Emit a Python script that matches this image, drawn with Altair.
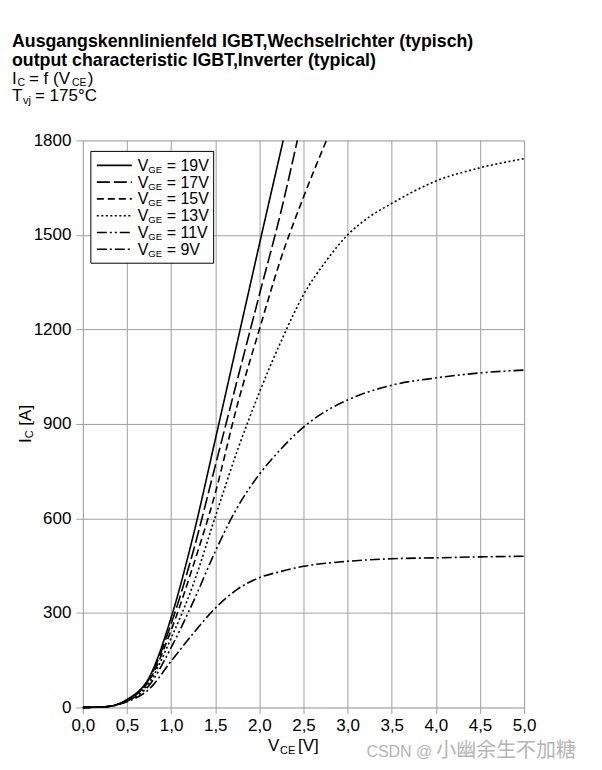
import altair as alt
import pandas as pd

# ---- data ----
series = ["19V", "17V", "15V", "13V", "11V", "9V"]

vce_19 = [0, 0.25, 0.5, 0.75, 1.0, 1.25, 1.5, 1.75, 2.0, 2.27]
ic_19 = [0, 2, 25, 95, 285, 545, 850, 1160, 1470, 1800]

vce_17 = [0, 0.25, 0.5, 0.75, 1.0, 1.25, 1.5, 1.75, 2.0, 2.25, 2.43]
ic_17 = [0, 2, 24, 90, 265, 495, 767, 1040, 1310, 1580, 1800]

vce_15 = [0, 0.25, 0.5, 0.75, 1.0, 1.25, 1.5, 1.75, 2.0, 2.25, 2.5, 2.76]
ic_15 = [0, 2, 23, 85, 245, 450, 680, 960, 1200, 1430, 1620, 1800]

vce_13 = [0, 0.25, 0.5, 0.75, 1.0, 1.25, 1.5, 1.75, 2.0, 2.25, 2.5, 2.75, 3.0, 3.25, 3.5, 4.0, 4.5, 5.0]
ic_13 = [0, 2, 22, 78, 220, 390, 605, 815, 1000, 1165, 1310, 1415, 1500, 1558, 1600, 1671, 1713, 1742]

vce_11 = [0, 0.25, 0.5, 0.75, 1.0, 1.25, 1.5, 1.75, 2.0, 2.25, 2.5, 2.75, 3.0, 3.5, 4.0, 4.5, 5.0]
ic_11 = [0, 2, 20, 70, 190, 335, 495, 635, 740, 822, 890, 940, 976, 1023, 1046, 1062, 1071]

vce_9 = [0, 0.25, 0.5, 0.75, 1.0, 1.25, 1.5, 1.75, 2.0, 2.25, 2.5, 3.0, 3.5, 4.0, 4.5, 5.0]
ic_9 = [0, 2, 18, 58, 147, 235, 315, 375, 412, 432, 448, 464, 472, 475, 478, 480]

x_ticks = [0, 0.5, 1.0, 1.5, 2.0, 2.5, 3.0, 3.5, 4.0, 4.5, 5.0]
y_ticks = [0, 300, 600, 900, 1200, 1500, 1800]

legend_labels = ["= 19V", "= 17V", "= 15V", "= 13V", "= 11V", "= 9V"]

# ---- styles ----
dashes = [[1, 0], [13, 4], [7, 4], [2, 2.5], [10, 3, 2, 3, 2, 3], [10, 3, 2, 3]]
FONT = "Liberation Sans"
GRID = "#a0a0a0"
LW = 1.6
OX, OY = 83, 140  # page position of plot origin (layout only)

pairs = [(vce_19, ic_19), (vce_17, ic_17), (vce_15, ic_15),
         (vce_13, ic_13), (vce_11, ic_11), (vce_9, ic_9)]
rows = []
for name, (vs, cs) in zip(series, pairs):
    for i, (v, c) in enumerate(zip(vs, cs)):
        rows.append({"series": name, "vce": v, "ic": c, "order": i})
df = pd.DataFrame(rows)

lbl_expr = "replace(format(datum.value, '.1f'), '.', ',')"

lines = alt.Chart(df).mark_line(interpolate="monotone", strokeWidth=LW, color="black").encode(
    x=alt.X("vce:Q", scale=alt.Scale(domain=[0, 5], nice=False),
            axis=alt.Axis(values=x_ticks, labelExpr=lbl_expr, title=None, grid=True,
                          gridColor=GRID, gridWidth=1, tickColor=GRID, tickSize=6,
                          domain=False, labelFont=FONT, labelFontSize=17,
                          labelColor="black", labelPadding=4, labelFlush=False)),
    y=alt.Y("ic:Q", scale=alt.Scale(domain=[0, 1800], nice=False),
            axis=alt.Axis(values=y_ticks, format="d", title=None, grid=True, gridColor=GRID,
                          gridWidth=1, tickColor=GRID, tickSize=7, domain=False,
                          labelFont=FONT, labelFontSize=17, labelColor="black",
                          labelPadding=5, labelFlush=False)),
    strokeDash=alt.StrokeDash("series:N", scale=alt.Scale(domain=series, range=dashes),
                              legend=None),
    detail="series:N",
    order="order:Q",
)

one = pd.DataFrame({"k": [0]})


def txt(text, x, y, size=17, weight="normal", angle=0, color="black", font=FONT):
    return alt.Chart(one).mark_text(
        text=text, font=font, fontSize=size, fontWeight=weight, align="left",
        baseline="alphabetic", angle=angle, color=color
    ).encode(x=alt.value(x - OX), y=alt.value(y - OY))


layers = [lines]

# legend box
layers.append(alt.Chart(one).mark_rect(fill="white", stroke="black", strokeWidth=1).encode(
    x=alt.value(91 - OX), x2=alt.value(214 - OX), y=alt.value(151 - OY), y2=alt.value(263 - OY)))

for i, (name, dash, lab) in enumerate(zip(series, dashes, legend_labels)):
    yc = 165 + i * 16.8
    layers.append(alt.Chart(one).mark_rule(color="black", strokeWidth=LW, strokeDash=dash).encode(
        x=alt.value(97 - OX), x2=alt.value(132 - OX), y=alt.value(yc - OY)))
    layers.append(txt("V", 138, yc + 5.5, 16))
    layers.append(txt("GE", 148.5, yc + 7.5, 9.5))
    layers.append(txt(lab, 167, yc + 5.5, 16))

# titles
layers.append(txt("Ausgangskennlinienfeld IGBT,Wechselrichter (typisch)", 12, 46, 17.8, "bold"))
layers.append(txt("output characteristic IGBT,Inverter (typical)", 12, 65, 17.8, "bold"))
layers.append(txt("I", 12, 83, 17))
layers.append(txt("C", 17.5, 85.3, 10.5))
layers.append(txt("= f (V", 29, 83, 17))
layers.append(txt("CE", 72, 85.3, 10.5))
layers.append(txt(")", 88, 83, 17))
layers.append(txt("T", 12, 101, 17))
layers.append(txt("vj", 23, 104, 11))
layers.append(txt("= 175°C", 35, 101, 17))

# axis titles
layers.append(txt("V", 268.5, 752, 17))
layers.append(txt("CE", 280.5, 754.5, 11))
layers.append(txt("[V]", 298.5, 752, 17))
layers.append(txt("I", 31, 443, 17, angle=270))
layers.append(txt("C", 33.5, 438.3, 11, angle=270))
layers.append(txt("[A]", 31, 425.7, 17, angle=270))

# watermark
layers.append(txt("CSDN @", 367, 758, 16, color="#b4b4b4"))
layers.append(txt("小幽余生不加糖", 437, 758, 20, color="#b4b4b4", font="Noto Sans CJK SC"))

chart = alt.layer(*layers).properties(
    width=442, height=568,
    autosize=alt.AutoSizeParams(type="none"),
    padding={"left": 75, "top": 132, "right": 70, "bottom": 60},
).configure_view(stroke="black", strokeWidth=2).configure(background="white")

chart.save("out.html", embed_options={"renderer": "svg", "actions": False})
